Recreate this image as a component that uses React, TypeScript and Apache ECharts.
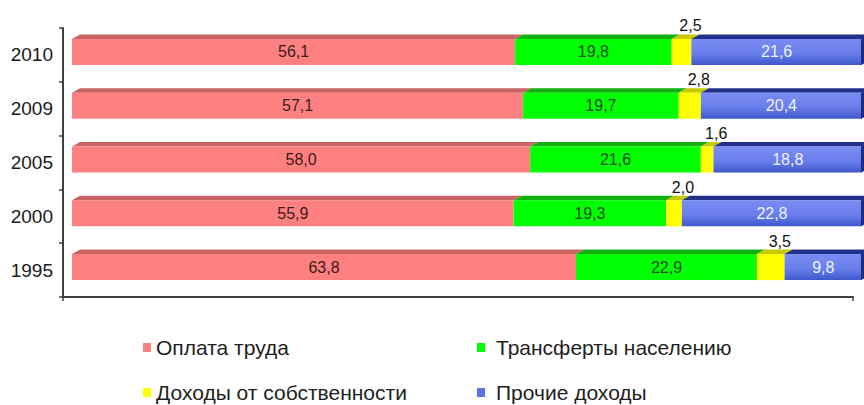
import React, { useEffect, useRef } from "react";
import * as echarts from "echarts";

const categories = ["1995", "2000", "2005", "2009", "2010"];
const seriesNames = [
  "Оплата труда",
  "Трансферты населению",
  "Доходы от собственности",
  "Прочие доходы",
];
const oplata = [63.8, 55.9, 58.0, 57.1, 56.1];
const transferty = [22.9, 19.3, 21.6, 19.7, 19.8];
const sobstvennost = [3.5, 2.0, 1.6, 2.8, 2.5];
const prochie = [9.8, 22.8, 18.8, 20.4, 21.6];

const seriesValues = [oplata, transferty, sobstvennost, prochie];

const legendColors = ["#FF8080", "#00FF00", "#FFFF00", "#5A72E6"];
const topColors = ["#C86464", "#10B010", "#C8C800", "#22308C"];
const labelColors = ["#3A1C1C", "#1E4A1E", "#111111", "#EEF1FF"];

const FONT = "'Liberation Sans', Arial, sans-serif";

function fmt(v: number) {
  return v.toFixed(1).replace(".", ",");
}

function frontFill(k: number) {
  if (k === 3) {
    return new echarts.graphic.LinearGradient(0, 0, 0, 1, [
      { offset: 0, color: "#7A8CF2" },
      { offset: 0.55, color: "#6A7FEC" },
      { offset: 1, color: "#3E58CC" },
    ]);
  }
  if (k === 0) return "#FF8080";
  if (k === 1) return "#00FF00";
  return "#FFFF00";
}

function makeRender(k: number) {
  return (params: any, api: any) => {
    const cat = api.value(0);
    const s = api.value(1);
    const e = api.value(2);
    const v = api.value(3);
    const p0 = api.coord([s, cat]);
    const p1 = api.coord([e, cat]);
    const yc = p0[1];
    const dx = 9;
    const x0 = p0[0] + dx;
    const x1 = p1[0] + dx;
    const top = yc - 16;
    const bottom = yc + 10;
    const depthX = 8;
    const depthY = 4.5;
    const children: any[] = [
      {
        type: "polygon",
        shape: {
          points: [
            [x0, top],
            [x0 + depthX, top - depthY],
            [x1 + depthX, top - depthY],
            [x1, top],
          ],
        },
        style: { fill: topColors[k] },
      },
      {
        type: "rect",
        shape: { x: x0, y: top, width: x1 - x0, height: bottom - top },
        style: { fill: frontFill(k) },
      },
    ];
    if (k === 3) {
      children.push({
        type: "polygon",
        shape: {
          points: [
            [x1 - 1, top],
            [x1 + depthX, top - depthY],
            [x1 + depthX, bottom - depthY],
            [x1 - 1, bottom],
          ],
        },
        style: { fill: "#1C2A80" },
      });
    }
    const isOutside = k === 2;
    children.push({
      type: "text",
      x: (x0 + x1) / 2 + (isOutside ? 9 : 0),
      y: isOutside ? yc - 29 : yc - 3,
      style: {
        text: fmt(v),
        fill: labelColors[k],
        font: `16px ${FONT}`,
        align: "center",
        verticalAlign: "middle",
      },
    });
    return { type: "group", children };
  };
}

const legendPos = [
  { left: 143, top: 337, pad: 0 },
  { left: 477, top: 337, pad: 6 },
  { left: 143, top: 382, pad: 0 },
  { left: 477, top: 382, pad: 6 },
];

export default function App() {
  const ref = useRef<HTMLDivElement>(null);
  useEffect(() => {
    if (!ref.current) return;
    const chart = echarts.init(ref.current, undefined, { renderer: "svg" });

    const starts = categories.map(() => 0);
    const series = seriesValues.map((vals, k) => {
      const data = vals.map((v, j) => {
        const s = starts[j];
        starts[j] = s + v;
        return [j, s, s + v, v];
      });
      return {
        type: "custom",
        name: seriesNames[k],
        itemStyle: { color: legendColors[k] },
        renderItem: makeRender(k),
        encode: { x: [1, 2], y: 0 },
        data,
        clip: false,
      };
    });

    const legends = seriesNames.map((name, k) => ({
      data: [name],
      orient: "horizontal",
      left: legendPos[k].left,
      top: legendPos[k].top,
      padding: 0,
      icon: "rect",
      itemWidth: 8,
      itemHeight: 9,
      textStyle: {
        fontSize: 21,
        color: "#1E1E1E",
        fontFamily: FONT,
        padding: [0, 0, 0, legendPos[k].pad],
      },
    }));

    chart.setOption({
      animation: false,
      backgroundColor: "#FFFFFF",
      textStyle: { fontFamily: FONT },
      grid: { left: 63, right: 11, top: 28, bottom: 108, containLabel: false },
      xAxis: {
        type: "value",
        min: 0,
        max: 100,
        interval: 100,
        axisLine: { show: true, lineStyle: { color: "#404040", width: 2 } },
        axisTick: { show: true, length: 4, lineStyle: { color: "#404040", width: 1.5 } },
        axisLabel: { show: false },
        splitLine: { show: false },
      },
      yAxis: {
        type: "category",
        data: categories,
        axisLine: { show: true, lineStyle: { color: "#404040", width: 2 } },
        axisTick: { show: true, length: 4, lineStyle: { color: "#404040", width: 1.5 } },
        axisLabel: { color: "#1A1A1A", fontSize: 19, margin: 10, fontFamily: FONT },
      },
      legend: legends,
      series,
    });
    return () => chart.dispose();
  }, []);
  return <div ref={ref} style={{ width: 864, height: 405, position: "absolute", left: 0, top: 0 }} />;
}
